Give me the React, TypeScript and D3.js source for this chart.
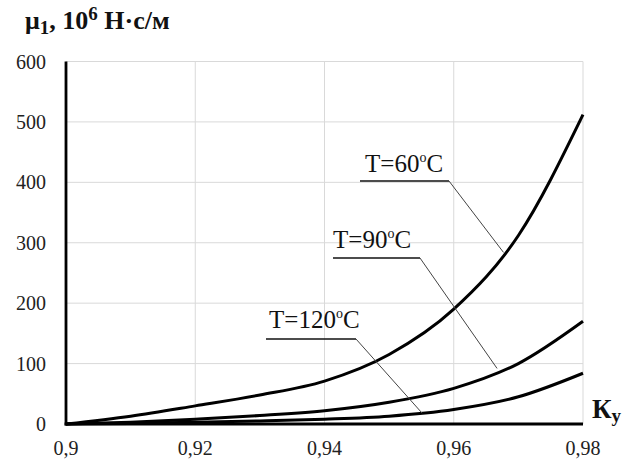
import React from 'react';
import * as d3 from 'd3';

// Ky values along the x axis
const ky = [0.9, 0.91, 0.92, 0.93, 0.94, 0.95, 0.96, 0.97, 0.98];

// mu1, 10^6 N*s/m for each temperature
const t60 = [0, 13, 30, 48, 71, 115, 190, 312, 512];
const t90 = [0, 3, 8, 14, 22, 36, 59, 100, 170];
const t120 = [0, 1, 3, 5, 8, 13, 24, 45, 84];

const xTicks = [0.9, 0.92, 0.94, 0.96, 0.98];
const xTickLabels = ['0,9', '0,92', '0,94', '0,96', '0,98'];
const yTicks = [0, 100, 200, 300, 400, 500, 600];

const series = [
  { name: '60', values: t60 },
  { name: '90', values: t90 },
  { name: '120', values: t120 },
];

// label text, underline start/end (px), and the point on the curve the leader goes to
const notes = [
  { temp: '60', x1: 360, x2: 449, y: 181, tx: 365, ty: 172, px: 0.9677, py: 284 },
  { temp: '90', x1: 333, x2: 420, y: 258, tx: 333, ty: 248, px: 0.9667, py: 92 },
  { temp: '120', x1: 266, x2: 356, y: 339, tx: 269, ty: 328, px: 0.9551, py: 18 },
];

const W = 629;
const H = 461;
const margin = { top: 61.5, right: 46, bottom: 37, left: 66 };

export default function App() {
  const x = d3.scaleLinear().domain([0.9, 0.98]).range([margin.left, W - margin.right]);
  const y = d3.scaleLinear().domain([0, 600]).range([H - margin.bottom, margin.top]);

  const line = d3
    .line<number>()
    .x((_, i) => x(ky[i]))
    .y((d) => y(d))
    .curve(d3.curveMonotoneX);

  const font = '"Liberation Serif", "Times New Roman", serif';

  return (
    <svg
      width={W}
      height={H}
      style={{ position: 'absolute', left: 0, top: 0, background: '#fff' }}
      fontFamily={font}
    >
      {/* grid */}
      {yTicks.slice(1).map((t) => (
        <line key={'gy' + t} x1={x(0.9)} x2={x(0.98)} y1={y(t)} y2={y(t)} stroke="#d9d9d9" strokeWidth={1} />
      ))}
      {xTicks.slice(1).map((t) => (
        <line key={'gx' + t} x1={x(t)} x2={x(t)} y1={y(0)} y2={y(600)} stroke="#d9d9d9" strokeWidth={1} />
      ))}

      {/* curves */}
      {series.map((s) => (
        <path key={s.name} d={line(s.values) || ''} fill="none" stroke="#000" strokeWidth={3} />
      ))}

      {/* axes */}
      <line x1={x(0.9)} x2={x(0.9)} y1={y(600)} y2={y(0) + 1.5} stroke="#000" strokeWidth={2.8} />
      <line x1={x(0.9) - 1.4} x2={x(0.98)} y1={y(0)} y2={y(0)} stroke="#000" strokeWidth={2.8} />

      {/* y tick labels */}
      {yTicks.map((t) => (
        <text key={'ly' + t} x={46} y={y(t)} dy="0.35em" textAnchor="end" fontSize={20} fill="#222">
          {t}
        </text>
      ))}
      {/* x tick labels */}
      {xTicks.map((t, i) => (
        <text key={'lx' + t} x={x(t)} y={455} textAnchor="middle" fontSize={20} fill="#222">
          {xTickLabels[i]}
        </text>
      ))}

      {/* annotations */}
      {notes.map((n) => (
        <g key={'n' + n.temp}>
          <line x1={n.x1} x2={n.x2} y1={n.y} y2={n.y} stroke="#111" strokeWidth={1.5} />
          <line x1={n.x2} y1={n.y} x2={x(n.px)} y2={y(n.py)} stroke="#444" strokeWidth={1} />
          <text x={n.tx} y={n.ty} fontSize={25} fill="#111">
            T={n.temp}
            <tspan fontSize={14} dy={-10}>o</tspan>
            <tspan dy={10}>C</tspan>
          </text>
        </g>
      ))}

      {/* axis titles */}
      <text x={25} y={29} fontSize={26} fontWeight="bold" fill="#111">
        μ<tspan fontSize={19} dy={5}>1</tspan>
        <tspan dy={-5}>, 10</tspan>
        <tspan fontSize={19} dy={-9}>6</tspan>
        <tspan dy={9}> Н·с/м</tspan>
      </text>
      <text x={592} y={418} fontSize={27} fontWeight="bold" fill="#111">
        К<tspan fontSize={19} dy={4}>у</tspan>
      </text>
    </svg>
  );
}
